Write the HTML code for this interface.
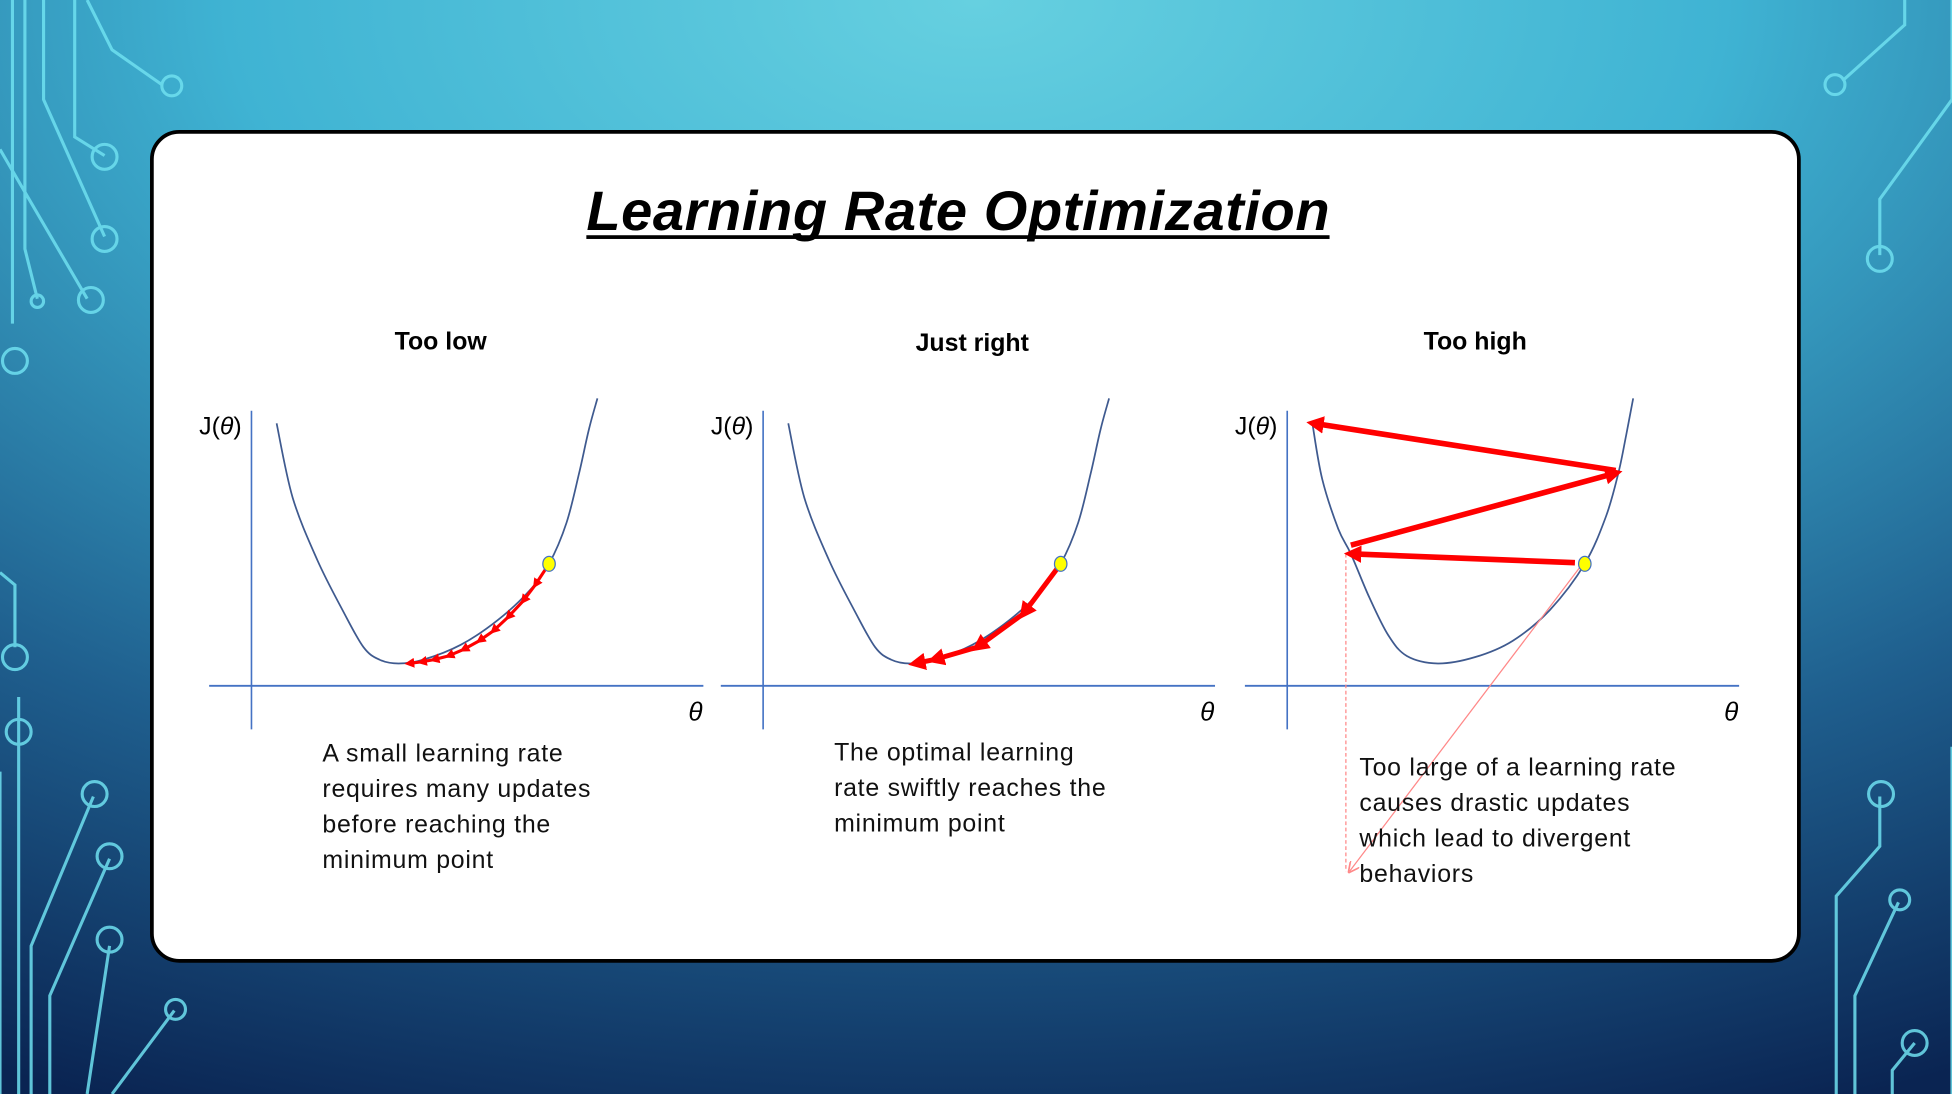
<!DOCTYPE html>
<html><head><meta charset="utf-8"><style>
html,body{margin:0;padding:0;width:1952px;height:1094px;overflow:hidden}
svg{display:block}
text{font-family:"Liberation Sans",sans-serif}
</style></head><body>
<svg id="s" width="1952" height="1094" viewBox="0 0 1568 879" preserveAspectRatio="none">
<defs>
<radialGradient id="bg" cx="0.5" cy="0" r="1.1">
<stop offset="0" stop-color="#66d0e0"/><stop offset="0.35" stop-color="#3fb3d3"/><stop offset="0.7" stop-color="#1f5f8e"/><stop offset="1" stop-color="#0a2452"/>
</radialGradient>
<marker id="ah" viewBox="0 0 10 10" refX="6" refY="5" markerUnits="userSpaceOnUse" markerWidth="8" markerHeight="8" orient="auto"><path d="M0,0 L10,5 L0,10 z" fill="#ff0000"/></marker>
<marker id="ahs" viewBox="0 0 10 10" refX="6" refY="5" markerUnits="userSpaceOnUse" markerWidth="14" markerHeight="14" orient="auto"><path d="M0,0 L10,5 L0,10 z" fill="#ff0000"/></marker>
<marker id="ahp" viewBox="0 0 10 10" refX="8" refY="5" markerUnits="userSpaceOnUse" markerWidth="9" markerHeight="9" orient="auto"><path d="M0,0 L10,5 L0,10" fill="none" stroke="#f88" stroke-width="1.5"/></marker>
</defs>
<rect width="1568" height="879" fill="url(#bg)"/>
<g fill="none" stroke="#6fe0f0" stroke-width="2.5" opacity="0.85">
<path d="M10,0 V260 M20,0 V200 L30,240 M35,0 V80 L84,190 M70,0 L90,40 L130,68 M60,0 V110 L84,125 M0,120 L70,240 M0,460 L12,470 V520 M15,560 V879 M0,620 V879 M25,879 V760 L75,640 M40,879 V800 L88,690 M70,879 L88,760 M90,879 L140,812"/>
<path d="M1530,0 V20 L1480,65 M1568,0 V80 L1510,160 V205 M1568,600 V879 M1475,879 V720 L1510,680 V640 M1490,879 V800 L1525,725 M1520,879 V860 L1538,838"/>
<circle cx="138" cy="69" r="8"/><circle cx="84" cy="126" r="10"/><circle cx="84" cy="192" r="10"/><circle cx="73" cy="241" r="10"/><circle cx="30" cy="242" r="5"/><circle cx="12" cy="290" r="10"/><circle cx="12" cy="528" r="10"/><circle cx="15" cy="588" r="10"/><circle cx="76" cy="638" r="10"/><circle cx="88" cy="688" r="10"/><circle cx="88" cy="755" r="10"/><circle cx="141" cy="811" r="8"/>
<circle cx="1474" cy="68" r="8"/><circle cx="1510" cy="208" r="10"/><circle cx="1511" cy="638" r="10"/><circle cx="1526" cy="723" r="8"/><circle cx="1538" cy="838" r="10"/>
</g>
<rect x="122" y="106" width="1323" height="666" rx="22" fill="#fff" stroke="#000" stroke-width="3"/>
<text x="471" y="185" textLength="597" lengthAdjust="spacing" font-size="45" font-weight="bold" font-style="italic">Learning Rate Optimization</text>
<rect x="471" y="189" width="597" height="3" fill="#000"/>
<g id="charts"></g>
</svg>
<script>
// shared curve data (theta, J)
const curveTheta = [5.6,9.2,14.7,20.3,25,28.6,32.8,38.3,46.7,55,61.9,66.4,70.3,73.1,75.3,77.2];
const curveJ = [91.7,65.7,43.9,26.5,13.5,9.1,7.8,9.1,14.3,23,33,42.6,57,74.3,89.6,100.4];
const highTheta = [5.6,7.8,11.4,14.2,18.3,22.5,26.7,33.6,41.9,50.3,58.6,66.4,71.1,73.9,75.6,77.2];
const highJ = [91.7,72.2,54.8,46.1,30.9,17.8,10.4,7.8,10,15.7,26.5,42.6,59.1,74.3,87.4,100.4];
const lowStepTheta = [66.4,63.3,60.6,57.2,53.9,50.8,47.2,43.9,40.6,37.8,35];
const lowStepJ = [42.6,35.2,29.6,23.9,19.1,15.7,12.6,10.4,9.1,8.3,7.8];
const rightStepTheta = [66.4,58.1,47.8,38.1,33.9];
const rightStepJ = [42.6,25.2,13.5,9.1,7.8];
const highStepFromTheta = [64.2,14.2,73.3];
const highStepFromJ = [43,49.1,75.2];
const highStepToTheta = [14.2,73.3,5.8];
const highStepToJ = [46.1,74.3,91.7];
const panelTitles = ["Too low","Just right","Too high"];
const panelTexts = [["A small learning rate","requires many updates","before reaching the","minimum point"],["The optimal learning","rate swiftly reaches the","minimum point"],["Too large of a learning rate","causes drastic updates","which lead to divergent","behaviors"]];

const NS="http://www.w3.org/2000/svg";
const G=document.getElementById('charts');
function mk(tag,attrs,parent){const e=document.createElementNS(NS,tag);for(const k in attrs)e.setAttribute(k,attrs[k]);(parent||G).appendChild(e);return e;}
function smooth(pts){let d='M'+pts[0][0].toFixed(1)+','+pts[0][1].toFixed(1);
  for(let i=0;i<pts.length-1;i++){const p0=pts[Math.max(0,i-1)],p1=pts[i],p2=pts[i+1],p3=pts[Math.min(pts.length-1,i+2)];
    const c1=[p1[0]+(p2[0]-p0[0])/6,p1[1]+(p2[1]-p0[1])/6],c2=[p2[0]-(p3[0]-p1[0])/6,p2[1]-(p3[1]-p1[1])/6];
    d+=' C'+c1.map(v=>v.toFixed(1)).join(',')+' '+c2.map(v=>v.toFixed(1)).join(',')+' '+p2[0].toFixed(1)+','+p2[1].toFixed(1);}
  return d;}
const origins=[[202,551],[613,551],[1034,551]];
const titleX=[354,781,1185], titleY=[281,282,281];
const textX=[259,670,1092], textY=[612,611,623];
origins.forEach((o,i)=>{
  const xS=t=>o[0]+t*3.6, yS=j=>o[1]-j*2.3;
  const g=mk('g',{});
  
  
  let t=mk('text',{x:titleX[i],y:titleY[i],'text-anchor':'middle','font-size':20,'font-weight':'bold'},g);t.textContent=panelTitles[i];
  
  
  let a=mk('line',{x1:o[0],y1:330,x2:o[0],y2:586,stroke:'#4472c4','stroke-width':1.3},g);
  
  
  a=mk('line',{x1:o[0]-34,y1:o[1],x2:o[0]+363,y2:o[1],stroke:'#4472c4','stroke-width':1.5},g);
  
  
  t=mk('text',{x:o[0]-42,y:349,'font-size':20,'font-family':'Liberation Serif, serif'},g);t.innerHTML='J(<tspan font-style="italic">θ</tspan>)';
  
  
  t=mk('text',{x:o[0]+351,y:579,'font-size':21,'font-style':'italic','font-family':'Liberation Serif, serif'},g);t.textContent='θ';
  
  
  const ct=i==2?highTheta:curveTheta, cj=i==2?highJ:curveJ;
  const pts=ct.map((v,k)=>[xS(v),yS(cj[k])]);
  const c=mk('path',{d:smooth(pts),fill:'none',stroke:'#3f5a8f','stroke-width':1.4},g);
  
  
  if(i<2){
    const st=i==0?lowStepTheta:rightStepTheta, sj=i==0?lowStepJ:rightStepJ;
    for(let k=0;k<st.length-1;k++){
      const l=mk('line',{x1:xS(st[k]),y1:yS(sj[k]),x2:xS(st[k+1]),y2:yS(sj[k+1]),stroke:'#ff0000','stroke-width':i==0?2.5:4,'marker-end':i==0?'url(#ah)':'url(#ahs)'},g);
      
      
    }
  } else {
    const vx=xS(highStepToTheta[0])-4;
    let p=mk('line',{x1:vx,y1:yS(highStepToJ[0]),x2:vx,y2:700,stroke:'#f88','stroke-width':1,'stroke-dasharray':'3,2'},g);
    
    
    p=mk('line',{x1:xS(highStepFromTheta[0])+9,y1:yS(highStepFromJ[0])-3,x2:vx+3,y2:700,stroke:'#f88','stroke-width':1,'marker-end':'url(#ahp)'},g);
    
    
    for(let k=0;k<highStepFromTheta.length;k++){
      const l=mk('line',{x1:xS(highStepFromTheta[k]),y1:yS(highStepFromJ[k]),x2:xS(highStepToTheta[k]),y2:yS(highStepToJ[k]),stroke:'#ff0000','stroke-width':4.5,'marker-end':'url(#ahs)'},g);
      
      
    }
  }
  const sx=xS(66.4), sy=yS(42.6);
  const dot=mk('ellipse',{cx:sx,cy:sy,rx:5,ry:6,fill:'#ffff00',stroke:'#4472c4','stroke-width':1},g);
  
  
  const tx=mk('text',{x:textX[i],y:textY[i],'font-size':20,'letter-spacing':0.6,fill:'#111'},g);
  
  
  panelTexts[i].forEach((line,k)=>{const s=mk('tspan',{x:textX[i],y:textY[i]+k*28.5},tx);s.textContent=line;});
});
</script>
</body></html>
